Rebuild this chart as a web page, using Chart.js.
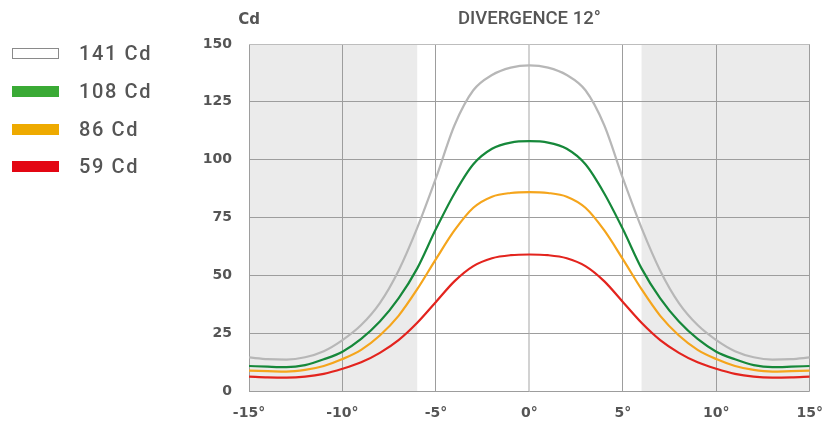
<!DOCTYPE html>
<html>
<head>
<meta charset="utf-8">
<script src="https://cdn.jsdelivr.net/npm/chart.js@4"></script>
<style>
  html, body { margin: 0; padding: 0; background: #fff; }
  #wrap { position: relative; width: 837px; height: 428px; }
  canvas { position: absolute; left: 0; top: 0; }
  .legend-row { position: absolute; left: 12px; height: 24px; display: flex; align-items: center; }
  .swatch { width: 47px; height: 11px; box-sizing: border-box; }
  .legend-row span { margin-left: 20px; font: 500 20px Roboto, sans-serif; letter-spacing: 1.6px; color: #555; }
</style>
</head>
<body>
<div id="wrap">
  <canvas id="chart" width="837" height="428"></canvas>
  <div id="legend"></div>
</div>
<script>
// ── Data ───────────────────────────────────────────────────────────────────────
const DEGREES = [-15,-14,-13,-12,-11,-10,-9,-8,-7,-6,-5,-4,-3,-2,-1,0,1,2,3,4,5,6,7,8,9,10,11,12,13,14,15];
const X_TICKS = [-15, -10, -5, 0, 5, 10, 15];
const Y_TICKS = [0, 25, 50, 75, 100, 125, 150];
const SHADE_EDGES = [-6, 6];  // grey bands outside the beam

const CD_141 = [14.5,13.8,13.6,14.6,17.2,22,28.5,38,52,70.5,92,115,130,136.6,139.8,140.8,139.8,136.6,130,115,92,70.5,52,38,28.5,22,17.2,14.6,13.6,13.8,14.5];
const CD_108 = [10.8,10.5,10.3,11.2,13.7,17,22.5,30,40,53,70,85.5,98,104.7,107.4,108,107.4,104.7,98,85.5,70,53,40,30,22.5,17,13.7,11.2,10.3,10.5,10.8];
const CD_86  = [8.8,8.6,8.4,9.1,10.8,13.8,17.8,24,32.5,44,57,69.5,79.2,84,85.6,86,85.6,84,79.2,69.5,57,44,32.5,24,17.8,13.8,10.8,9.1,8.4,8.6,8.8];
const CD_59  = [6.2,5.9,5.8,6.2,7.4,9.6,12.4,16.5,22,29.5,38.5,47.5,54,57.4,58.7,59,58.7,57.4,54,47.5,38.5,29.5,22,16.5,12.4,9.6,7.4,6.2,5.8,5.9,6.2];

const SERIES = [
  { label: '141 Cd', values: CD_141, line: '#b7b7b7', swatch: '#ffffff', border: '#8a8a8a' },
  { label: '108 Cd', values: CD_108, line: '#16883a', swatch: '#3aaa35' },
  { label: '86 Cd',  values: CD_86,  line: '#f5a51c', swatch: '#eeaa00' },
  { label: '59 Cd',  values: CD_59,  line: '#e3241e', swatch: '#e30613' },
];

const TITLE = 'DIVERGENCE 12°';
const Y_UNIT = 'Cd';

// ── Legend (HTML, left column) ─────────────────────────────────────────────────
const legendEl = document.getElementById('legend');
const ROW_CENTERS = [53, 91, 129, 166];
SERIES.forEach((s, i) => {
  const row = document.createElement('div');
  row.className = 'legend-row';
  row.style.top = (ROW_CENTERS[i] - 12) + 'px';
  const sw = document.createElement('div');
  sw.className = 'swatch';
  sw.style.background = s.swatch;
  if (s.border) sw.style.border = '1.5px solid ' + s.border;
  const txt = document.createElement('span');
  txt.textContent = s.label;
  row.appendChild(sw);
  row.appendChild(txt);
  legendEl.appendChild(row);
});

// ── Plugins: grey bands + texts above the plot ─────────────────────────────────
const bandsPlugin = {
  id: 'bands',
  beforeDraw(chart) {
    const { ctx, chartArea, scales } = chart;
    const xl = scales.x.getPixelForValue(SHADE_EDGES[0]);
    const xr = scales.x.getPixelForValue(SHADE_EDGES[1]);
    ctx.save();
    ctx.fillStyle = '#ebebeb';
    ctx.fillRect(chartArea.left, chartArea.top, xl - chartArea.left, chartArea.bottom - chartArea.top);
    ctx.fillRect(xr, chartArea.top, chartArea.right - xr, chartArea.bottom - chartArea.top);
    ctx.restore();
  },
  afterDraw(chart) {
    const { ctx, chartArea } = chart;
    ctx.save();
    ctx.fillStyle = '#555';
    ctx.textBaseline = 'middle';
    ctx.textAlign = 'center';
    ctx.font = '500 18.5px Roboto';
    ctx.fillText(TITLE, (chartArea.left + chartArea.right) / 2, 19);
    ctx.font = 'bold 15px "DejaVu Sans"';
    ctx.fillText(Y_UNIT, chartArea.left, 20);
    ctx.restore();
  },
};

// ── Chart ──────────────────────────────────────────────────────────────────────
const datasets = SERIES.map(s => ({
  label: s.label,
  data: DEGREES.map((d, i) => ({ x: d, y: s.values[i] })),
  borderColor: s.line,
  borderWidth: 2.2,
  pointRadius: 0,
  fill: false,
  cubicInterpolationMode: 'monotone',
}));

const tickFont = { family: 'DejaVu Sans', size: 14, weight: 'bold' };

new Chart(document.getElementById('chart'), {
  type: 'line',
  data: { datasets },
  plugins: [bandsPlugin],
  options: {
    responsive: false,
    animation: false,
    layout: { padding: { top: 44, right: 25, bottom: 0, left: 0 } },
    plugins: { legend: { display: false }, tooltip: { enabled: false } },
    scales: {
      x: {
        type: 'linear',
        min: -15,
        max: 15,
        afterBuildTicks: (scale) => { scale.ticks = X_TICKS.map(v => ({ value: v })); },
        afterFit: (scale) => { scale.height = 37; },
        ticks: {
          padding: 14,
          color: '#555',
          font: tickFont,
          maxRotation: 0,
          callback: (v) => v + '°',
        },
        grid: {
          drawTicks: false,
          color: (c) => (c.tick && c.tick.value === 0 ? '#d2d2d2' : '#9d9d9d'),
          lineWidth: (c) => (c.tick && c.tick.value === 0 ? 2 : 1),
        },
        border: { display: false },
      },
      y: {
        min: 0,
        max: 150,
        afterBuildTicks: (scale) => { scale.ticks = Y_TICKS.map(v => ({ value: v })); },
        afterFit: (scale) => { scale.width = 249; },
        ticks: {
          padding: 17,
          color: '#555',
          font: tickFont,
        },
        grid: {
          drawTicks: false,
          color: (c) => (c.tick && c.tick.value === 150 ? '#bdbdbd' : '#9d9d9d'),
        },
        border: { display: false },
      },
    },
  },
});
</script>
</body>
</html>
